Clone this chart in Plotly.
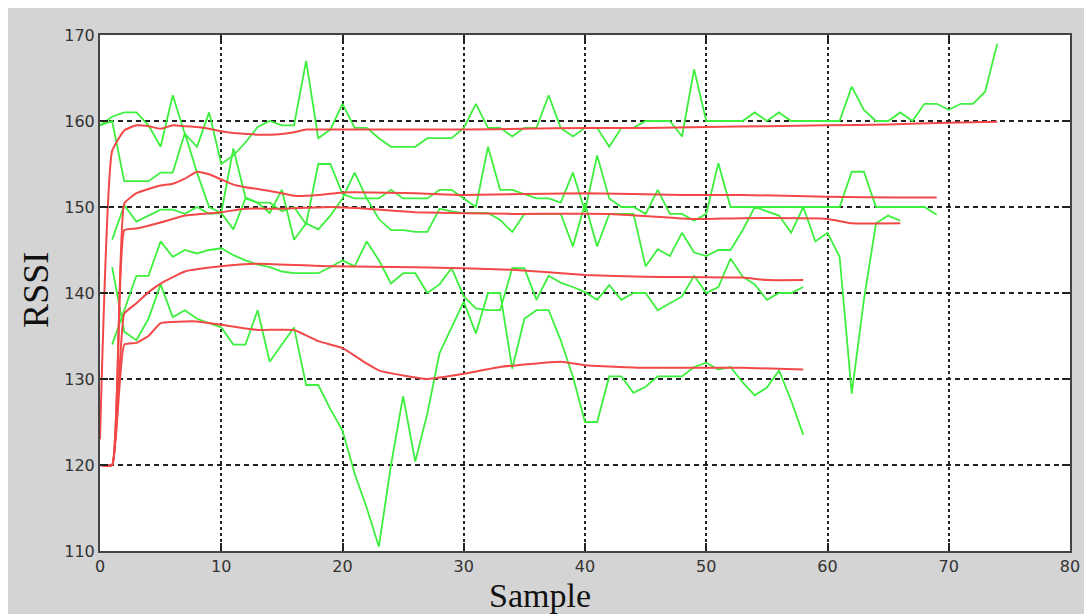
import plotly.graph_objects as go

# ---------------- data ----------------
# green: raw RSSI samples, one list per node (first sample index given separately)
raw_a_start = 0
raw_a = [159.5, 160.5, 161, 161, 159.5, 157, 163, 158.5, 157, 161,
         155, 156, 157.5, 159.3, 160, 159.5, 159.5, 167, 158, 159,
         162, 159.2, 159.2, 158, 157, 157, 157, 158, 158, 158,
         159.2, 162, 159.2, 159.2, 158.2, 159.2, 159.2, 163, 159.2, 158.2,
         159.2, 159.2, 157, 159.2, 159.2, 160, 160, 160, 158.2, 166,
         160, 160, 160, 160, 161, 160, 161, 160, 160, 160,
         160, 160, 164, 161.3, 160, 160, 161, 160, 162, 162,
         161.3, 162, 162, 163.4, 169]

raw_b_start = 0
raw_b = [159.5, 160, 153, 153, 153, 154, 154, 158.6, 154, 150,
         149.3, 156.8, 151.1, 150.5, 150.5, 149.5, 150, 148, 155, 155,
         151.5, 151, 151, 151, 152, 151, 151, 151, 152, 152,
         151, 150, 157, 152, 152, 151.5, 151, 151, 150.5, 154,
         149.5, 156, 151, 150, 150, 149.2, 152, 149.2, 149.2, 148.4,
         149.2, 155.1, 150, 150, 150, 150, 150, 150, 150, 150,
         150, 150, 154.1, 154.1, 150, 150, 150, 150, 150, 149.1]

raw_c_start = 1
raw_c = [146.2, 150.2, 148.3, 149, 149.7, 149.7, 149.2, 150, 149.2, 149.3,
         147.4, 151, 150.5, 149.3, 152, 146.2, 148.1, 147.4, 149, 151,
         154, 151, 148.6, 147.3, 147.3, 147.1, 147.1, 149.8, 149.5, 149.3,
         149.3, 149.3, 148.5, 147.1, 149.2, 149.2, 149.2, 149.2, 145.4, 150.4,
         145.4, 149.2, 149.2, 149.2, 143.1, 145.1, 144.3, 147, 144.7, 144.3,
         145, 145, 147.3, 150, 149.5, 149, 147, 150, 146, 147,
         144.2, 128.3, 139.2, 148.1, 149, 148.4]

raw_d_start = 1
raw_d = [134, 138, 142, 142, 146, 144.2, 145, 144.6, 145, 145.2,
         144.4, 143.8, 143.3, 143, 142.5, 142.3, 142.3, 142.3, 143, 143.8,
         143.1, 146, 143.8, 141.1, 142.3, 142.3, 140, 141, 142.9, 139.6,
         138.2, 138, 138, 142.9, 142.9, 139.2, 142, 141.2, 140.7, 140.1,
         139.2, 140.9, 139.2, 140, 140, 138, 138.8, 139.6, 142, 140,
         140.7, 144, 141.9, 141, 139.2, 140, 140, 140.7]

raw_e_start = 1
raw_e = [143, 135.5, 134.5, 137, 141, 137.2, 138, 137, 136.5, 136,
         134, 134, 138, 132, 134, 136, 129.3, 129.3, 126.5, 124,
         119, 115, 110.5, 120, 128, 120.4, 126, 133, 136, 139,
         135.3, 140, 140, 131.2, 137, 138, 138, 134.5, 130.3, 125,
         125, 130.3, 130.3, 128.4, 129.1, 130.3, 130.3, 130.3, 131.4, 131.9,
         131.1, 131.4, 129.6, 128.1, 129, 131, 127.5, 123.5]

# red: smoothed RSSI (key samples)
avg_a_x = [0, 1, 2, 3, 4, 5, 6, 7, 8, 9, 10, 11, 12, 13, 14, 15, 16, 17, 18, 20,
           25, 30, 35, 40, 45, 50, 55, 60, 65, 70, 74]
avg_a_y = [123, 156.5, 158.9, 159.5, 159.4, 159.1, 159.5, 159.4, 159.3, 159.1,
           158.8, 158.6, 158.5, 158.4, 158.4, 158.5, 158.7, 159, 159, 159,
           159, 159, 159.1, 159.2, 159.2, 159.3, 159.4, 159.5, 159.6, 159.8, 159.9]

avg_b_x = [0, 1, 2, 3, 4, 5, 6, 7, 8, 9, 10, 11, 12, 13, 15, 16, 18, 20, 26, 30,
           40, 48, 53, 60, 66, 69]
avg_b_y = [120, 120, 150.4, 151.6, 152.1, 152.5, 152.7, 153.3, 154.1, 153.8,
           153.2, 152.6, 152.3, 152.1, 151.6, 151.3, 151.4, 151.7, 151.6, 151.4,
           151.6, 151.4, 151.4, 151.2, 151.1, 151.1]

avg_c_x = [0, 1, 2, 3, 5, 7, 10, 12, 15, 19, 22, 26, 34, 42, 49, 53, 60, 62, 66]
avg_c_y = [120, 120, 147.3, 147.5, 148.2, 149, 149.4, 149.8, 149.8, 150, 149.8,
           149.4, 149.2, 149.2, 148.6, 148.7, 148.6, 148.1, 148.1]

avg_d_x = [0, 1, 2, 3, 4, 5, 7, 10, 13, 19, 26, 34, 40, 45, 53, 55, 58]
avg_d_y = [120, 120, 137.6, 138.8, 140.1, 141.1, 142.5, 143.1, 143.4, 143.1,
           143, 142.7, 142.1, 141.9, 141.8, 141.5, 141.5]

avg_e_x = [0, 1, 2, 3, 4, 5, 7, 8, 10, 13, 16, 18, 20, 22, 23, 25, 27, 30, 33,
           38, 40, 45, 53, 58]
avg_e_y = [120, 120, 134, 134.2, 135, 136.5, 136.7, 136.7, 136.3, 135.7, 135.7,
           134.4, 133.6, 131.8, 131, 130.4, 130, 130.6, 131.4, 132, 131.6,
           131.3, 131.3, 131.1]

x_ticks = [0, 10, 20, 30, 40, 50, 60, 70, 80]
y_ticks = [110, 120, 130, 140, 150, 160, 170]
x_title = "Sample"
y_title = "RSSI"

GREEN = "#3ef03e"
RED = "#f24848"

fig = go.Figure()

raw_sets = [(raw_a_start, raw_a), (raw_b_start, raw_b), (raw_c_start, raw_c),
            (raw_d_start, raw_d), (raw_e_start, raw_e)]
for start, vals in raw_sets:
    fig.add_trace(go.Scatter(x=list(range(start, start + len(vals))), y=vals,
                             mode="lines", line=dict(color=GREEN, width=1.8),
                             showlegend=False, hoverinfo="skip"))

avg_sets = [(avg_a_x, avg_a_y), (avg_b_x, avg_b_y), (avg_c_x, avg_c_y),
            (avg_d_x, avg_d_y), (avg_e_x, avg_e_y)]
for xs, ys in avg_sets:
    fig.add_trace(go.Scatter(x=xs, y=ys, mode="lines",
                             line=dict(color=RED, width=2, shape="spline", smoothing=0.4),
                             showlegend=False, hoverinfo="skip"))

axis_common = dict(
    showline=True, linecolor="#444", linewidth=2, mirror="ticks",
    ticks="inside", ticklen=8, tickwidth=2, tickcolor="#222",
    showgrid=True, gridcolor="#222", gridwidth=1.6,
    zeroline=False,
    tickfont=dict(family="DejaVu Sans", size=16, color="#333"),
)

fig.update_xaxes(range=[0, 80], tickvals=x_ticks, griddash="3px,3px", **axis_common)
fig.update_yaxes(range=[110, 170], tickvals=y_ticks, griddash="5px,4px", **axis_common)

fig.update_layout(
    width=1084, height=606,
    margin=dict(l=92, r=12, t=27, b=63),
    paper_bgcolor="#d4d4d4",
    plot_bgcolor="#ffffff",
    annotations=[
        dict(text=x_title, xref="paper", yref="paper", x=0.454, y=-0.086,
             xanchor="center", yanchor="middle", showarrow=False,
             font=dict(family="Liberation Serif", size=34, color="#111")),
        dict(text=y_title, xref="paper", yref="paper", x=-0.066, y=0.506,
             xanchor="center", yanchor="middle", showarrow=False, textangle=-90,
             font=dict(family="Liberation Serif", size=36, color="#111")),
    ],
)

fig.write_html("out.html")
